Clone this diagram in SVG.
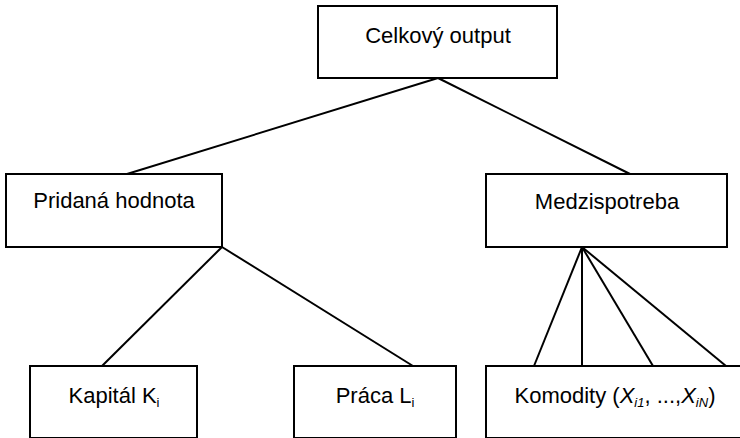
<svg xmlns="http://www.w3.org/2000/svg" width="740" height="438" viewBox="0 0 740 438">
<style>
.box{fill:#fff;stroke:#000;stroke-width:2}
.lbl{font-family:"Liberation Sans",Arial,sans-serif;font-size:22px;fill:#000;text-anchor:middle}
.sub{font-size:13px}
.it{font-style:italic}
.con line{stroke:#000;stroke-width:2}
</style>
<rect width="740" height="438" fill="#fff"/>
<g id="connectors" class="con">
<line x1="438" y1="78" x2="127" y2="174"/>
<line x1="438" y1="78" x2="630" y2="174"/>
<line x1="222" y1="247" x2="102" y2="366"/>
<line x1="222" y1="247" x2="413" y2="366"/>
<line x1="582" y1="247" x2="534" y2="366"/>
<line x1="582" y1="247" x2="582" y2="366"/>
<line x1="582" y1="247" x2="653" y2="366"/>
<line x1="582" y1="247" x2="726" y2="366"/>
</g>
<g id="celkovy">
<rect class="box" x="318" y="6" width="239" height="72"/>
<text class="lbl" x="438" y="43">Celkový output</text>
</g>
<g id="pridana">
<rect class="box" x="6" y="174" width="216" height="73"/>
<text class="lbl" x="114" y="208">Pridaná hodnota</text>
</g>
<g id="medzi">
<rect class="box" x="486" y="174" width="241" height="73"/>
<text class="lbl" x="607" y="209">Medzispotreba</text>
</g>
<g id="kapital">
<rect class="box" x="30" y="366" width="167" height="72"/>
<text class="lbl" x="114" y="403">Kapitál K<tspan class="sub" dy="4">i</tspan></text>
</g>
<g id="praca">
<rect class="box" x="294" y="366" width="162" height="72"/>
<text class="lbl" x="375" y="403">Práca L<tspan class="sub" dy="4">i</tspan></text>
</g>
<g id="komodity">
<rect class="box" x="486" y="366" width="262" height="72"/>
<text class="lbl" x="615" y="403">Komodity (<tspan class="it">X</tspan><tspan class="it sub" dy="4">i1</tspan><tspan dy="-4">, ...,</tspan><tspan class="it">X</tspan><tspan class="it sub" dy="4">iN</tspan><tspan dy="-4">)</tspan></text>
</g>
</svg>
